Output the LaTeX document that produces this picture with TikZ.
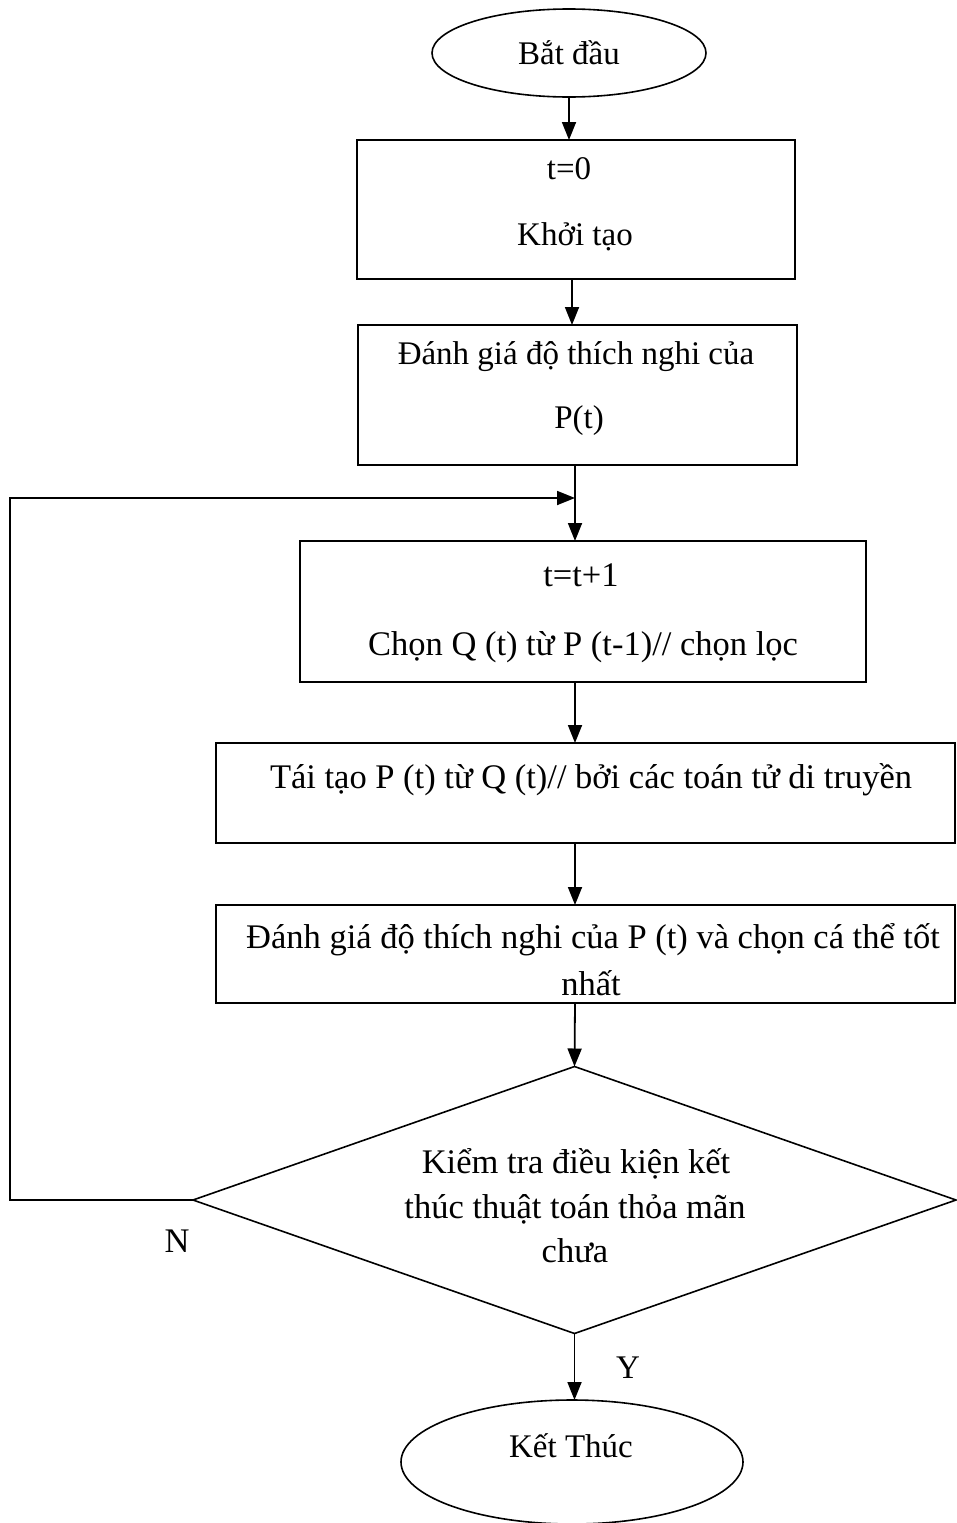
\documentclass[tikz,border=0pt]{standalone}
\usepackage{fontspec}
\setmainfont{Liberation Serif}
\usetikzlibrary{arrows.meta,shapes.geometric}
\begin{document}
\begin{tikzpicture}[x=1pt,y=-1pt,
  line width=1.8pt,
  every node/.style={inner sep=0pt,outer sep=0pt},
  stepbox/.style={draw,rectangle,line width=1.6pt},
  term/.style={draw,ellipse,line width=1.6pt},
  decide/.style={draw,diamond,line width=1.6pt},
  lbl/.style={anchor=base,font=\fontsize{33}{40}\selectfont},
  lblb/.style={anchor=base,font=\fontsize{34.5}{42}\selectfont},
  flow/.style={-{Triangle[length=18pt,width=14pt]}}]
% canvas
\useasboundingbox (0,0) rectangle (956,1523);

% shapes
\node[term,minimum width=274pt,minimum height=88pt] (start) at (569,53) {};
\node[stepbox,minimum width=438pt,minimum height=139pt] (init) at (576,209.5) {};
\node[stepbox,minimum width=439pt,minimum height=140pt] (eval0) at (577.5,395) {};
\node[stepbox,minimum width=566pt,minimum height=141pt] (select) at (583,611.5) {};
\node[stepbox,minimum width=739pt,minimum height=100pt] (rebuild) at (585.5,793) {};
\node[stepbox,minimum width=739pt,minimum height=98pt] (eval) at (585.5,954) {};
\node[decide,minimum width=763pt,minimum height=267pt] (check) at (574.5,1200) {};
\node[term,minimum width=342pt,minimum height=124pt] (stop) at (572,1462) {};

% texts
\node[lbl] (tstart) at (569,64) {Bắt đầu};
\node[lbl] (tinit1) at (569,179) {t=0};
\node[lbl] (tinit2) at (575,245) {Khởi tạo};
\node[lbl] (teval1) at (576,364) {Đánh giá độ thích nghi của};
\node[lbl] (teval2) at (579,428) {P(t)};
\node[lblb] (tsel1) at (581,586) {t=t+1};
\node[lblb] (tsel2) at (583,655) {Chọn Q (t) từ P (t-1)// chọn lọc};
\node[lblb] (treb) at (591,788) {Tái tạo P (t) từ Q (t)// bởi các toán tử di truyền};
\node[lblb] (tev1) at (593,948) {Đánh giá độ thích nghi của P (t) và chọn cá thể tốt};
\node[lblb] (tev2) at (591,995) {nhất};
\node[lblb] (tchk1) at (576,1173) {Kiểm tra điều kiện kết};
\node[lblb] (tchk2) at (575,1218) {thúc thuật toán thỏa mãn};
\node[lblb] (tchk3) at (575,1262) {chưa};
\node[lblb] (tno) at (177,1252) {N};
\node[lbl] (tyes) at (628,1378) {Y};
\node[lbl] (tstop) at (571,1457) {Kết Thúc};

% connectors
\coordinate (join) at (575,498);
\coordinate (c2) at (10,498);
\coordinate (c1) at (check.west -| c2);
\draw[flow] (start.south) -- (init.north -| start.south);
\draw[flow] (init.south -| 572,0) -- (eval0.north -| 572,0);
\draw (eval0.south -| join) -- (join);
\draw[flow] (join) -- (select.north -| join);
\draw[flow] (select.south -| join) -- (rebuild.north -| join);
\draw[flow] (rebuild.south -| join) -- (eval.north -| join);
\draw[flow] (eval.south -| join) -- (check.north);
\draw[flow] (check.south) -- (stop.north -| check.south);
\draw[flow] (check.west) -- (c1) -- (c2) -- (join);
\end{tikzpicture}
\end{document}
